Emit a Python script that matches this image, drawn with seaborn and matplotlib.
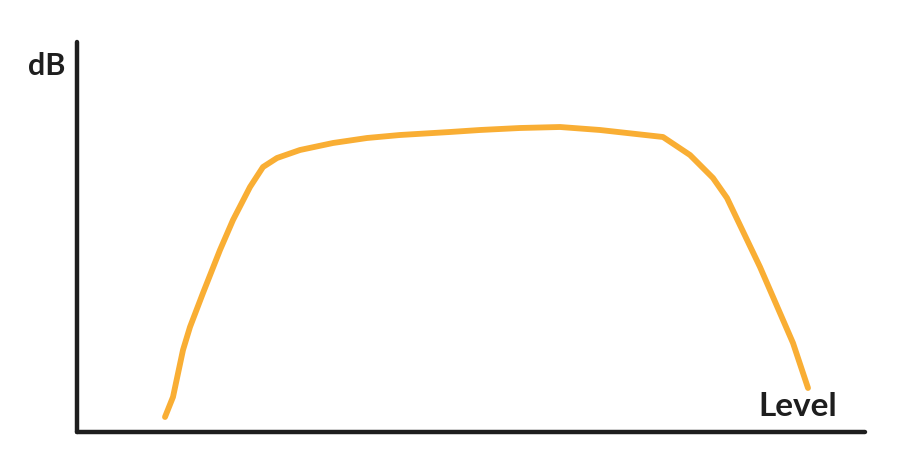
import matplotlib

matplotlib.use("Agg")

import matplotlib.pyplot as plt
import pandas as pd
import seaborn as sns

sns.set_style("white")
plt.rcParams["font.family"] = ["Lato", "DejaVu Sans"]

# curve (level on x, dB on y, in picture units)
level = [165, 173, 183, 190, 203, 220, 233, 250, 263, 277, 300, 333, 367,
         400, 450, 480, 520, 560, 600, 663, 690, 713, 727, 760, 793, 808]
db = [42, 62, 109, 132, 166, 209, 239, 272, 292, 301, 309, 316, 321,
      324, 327, 329, 331, 332, 329, 322, 304, 281, 261, 192, 116, 71]

x_label = "Level"
y_label = "dB"

df = pd.DataFrame({"level": level, "db": db})

fig = plt.figure(figsize=(9, 4.59), dpi=100)
ax = fig.add_axes([0, 0, 1, 1])
sns.lineplot(data=df, x="level", y="db", sort=False, color="#f9ae34",
             linewidth=4.2, solid_capstyle="round", solid_joinstyle="round",
             ax=ax)

ax.set_xlim(0, 900)
ax.set_ylim(0, 459)
ax.set_xticks([])
ax.set_yticks([])
ax.set_xlabel("")
ax.set_ylabel("")

for side in ["top", "right"]:
    ax.spines[side].set_visible(False)
ax.spines["left"].set_position(("data", 77))
ax.spines["left"].set_bounds(27, 417)
ax.spines["bottom"].set_position(("data", 27))
ax.spines["bottom"].set_bounds(77, 865)
for side in ["left", "bottom"]:
    ax.spines[side].set_linewidth(3.2)
    ax.spines[side].set_color("#1e1e1e")
    ax.spines[side].set_capstyle("round")

ax.text(47, 393, y_label, fontsize=22, fontweight="bold", color="#1e1e1e",
        ha="center", va="center")
ax.text(798, 53, x_label, fontsize=24, fontweight="bold", color="#1e1e1e",
        ha="center", va="center")

fig.savefig("out.png", dpi=100)
plt.close(fig)
